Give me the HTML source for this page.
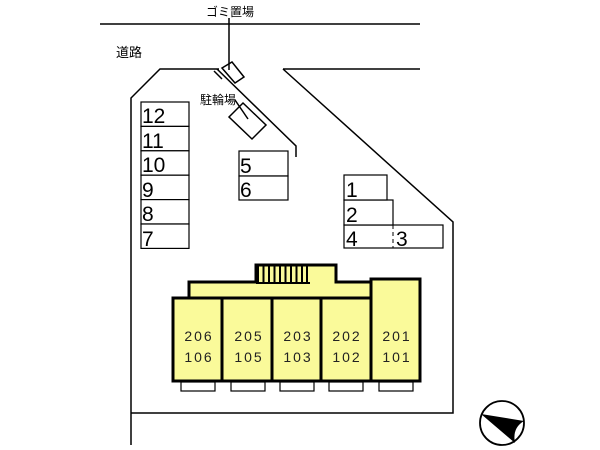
<!DOCTYPE html>
<html><head><meta charset="utf-8"><style>
html,body{margin:0;padding:0;background:#fff}
svg{display:block}
text{font-family:"Liberation Sans","Noto Sans CJK JP",sans-serif}
</style></head><body>
<svg width="600" height="450" viewBox="0 0 600 450" xmlns="http://www.w3.org/2000/svg">
<g stroke="#000" fill="none" stroke-width="1.5">
<line x1="100" y1="24" x2="420" y2="24"/>
<line x1="229" y1="18" x2="229" y2="70"/>
<polyline points="219,69 160,69 131,98 131,445"/>
<polyline points="217,69 296,146 296,157"/>
<line x1="214" y1="71" x2="222" y2="79"/>
<polyline points="283,69 420,69"/>
<polyline points="283,69 453,222 453,413 131,413"/>
<polygon points="222,68 232,62 244,77 235,83"/>
<polygon points="229,117 243,103 266,125 252,139"/>
<line x1="235" y1="100" x2="248" y2="119"/>
</g>
<text x="230" y="16" font-size="12" text-anchor="middle">ゴミ置場</text>
<text x="116" y="57" font-size="13">道路</text>
<text x="200" y="104" font-size="12">駐輪場</text>
<g stroke="#000" fill="#fff" stroke-width="1.2">
<rect x="141" y="102" width="48" height="24.4"/>
<rect x="141" y="126.4" width="48" height="24.4"/>
<rect x="141" y="150.8" width="48" height="24.4"/>
<rect x="141" y="175.2" width="48" height="24.4"/>
<rect x="141" y="199.6" width="48" height="24.4"/>
<rect x="141" y="224" width="48" height="24.4"/>
<rect x="239" y="151" width="49" height="25"/>
<rect x="239" y="176" width="49" height="24"/>
<rect x="344" y="225" width="99" height="23"/>
<rect x="344" y="200" width="49" height="25"/>
<rect x="344" y="175" width="43" height="25"/>
</g>
<line x1="393" y1="225" x2="393" y2="248" stroke="#000" stroke-width="1" stroke-dasharray="4,3"/>
<g font-size="21">
<text x="142" y="123">12</text><text x="142" y="148">11</text><text x="142" y="172">10</text>
<text x="142" y="197">9</text><text x="142" y="221">8</text><text x="142" y="246">7</text>
<text x="240" y="173">5</text><text x="240" y="197">6</text>
<text x="346" y="197">1</text><text x="346" y="222">2</text><text x="346" y="246">4</text><text x="396" y="246">3</text>
</g>
<g stroke="#000" stroke-width="3" fill="#fafa9a">
<polygon points="189,298 189,282 256,282 256,265 336,265 336,282 371,282 371,298"/>
<rect x="173" y="298" width="49" height="83"/>
<rect x="222" y="298" width="50" height="83"/>
<rect x="272" y="298" width="49" height="83"/>
<rect x="321" y="298" width="50" height="83"/>
<rect x="371" y="279" width="49" height="102"/>
</g>
<g stroke="#000" stroke-width="2">
<line x1="258" y1="266" x2="258" y2="283"/><line x1="263.5" y1="266" x2="263.5" y2="283"/>
<line x1="269" y1="266" x2="269" y2="283"/><line x1="274.5" y1="266" x2="274.5" y2="283"/>
<line x1="280" y1="266" x2="280" y2="283"/><line x1="285.5" y1="266" x2="285.5" y2="283"/>
<line x1="291" y1="266" x2="291" y2="283"/><line x1="296.5" y1="266" x2="296.5" y2="283"/>
<line x1="302" y1="266" x2="302" y2="283"/><line x1="307" y1="266" x2="307" y2="283"/>
<line x1="256" y1="283" x2="310" y2="283"/>
</g>
<g stroke="#000" stroke-width="1.2" fill="#fff">
<rect x="181" y="382" width="34" height="9"/><rect x="231" y="382" width="34" height="9"/>
<rect x="280" y="382" width="34" height="9"/><rect x="329" y="382" width="34" height="9"/>
<rect x="379" y="382" width="34" height="9"/>
</g>
<g font-size="14" text-anchor="middle" letter-spacing="2" fill="#222">
<text x="199" y="341">206</text><text x="199" y="362">106</text>
<text x="249" y="341">205</text><text x="249" y="362">105</text>
<text x="298" y="341">203</text><text x="298" y="362">103</text>
<text x="347" y="341">202</text><text x="347" y="362">102</text>
<text x="397" y="341">201</text><text x="397" y="362">101</text>
</g>
<circle cx="502" cy="423" r="22" fill="#fff" stroke="#000" stroke-width="1.8"/>
<path d="M481,414 L524,421 Q512,428 515,443 Z" fill="#000"/>
</svg>
</body></html>
